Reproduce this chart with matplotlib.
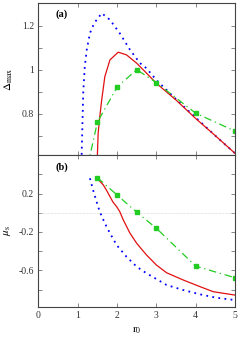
import matplotlib
matplotlib.use("Agg")
import matplotlib.pyplot as plt

# ---- data ----
# panel (a): Delta_max vs r0
a_blue_r = [1.08, 1.10, 1.14, 1.18, 1.23, 1.31, 1.42, 1.61, 1.82, 2.07, 2.33, 2.58, 2.75, 3.0, 3.52, 4.02, 4.53, 5.0]
a_blue_v = [0.53, 0.612, 0.893, 1.014, 1.09, 1.165, 1.211, 1.256, 1.226, 1.165, 1.09, 1.03, 1.006, 0.953, 0.862, 0.779, 0.695, 0.62]
a_red_r = [1.48, 1.50, 1.52, 1.57, 1.61, 1.69, 1.82, 2.03, 2.24, 2.5, 2.75, 3.0, 3.5, 4.0, 4.5, 5.0]
a_red_v = [0.50, 0.61, 0.711, 0.80, 0.862, 0.968, 1.044, 1.079, 1.067, 1.029, 0.984, 0.938, 0.862, 0.778, 0.70, 0.62]
a_green_r = [1.25, 1.5, 2.0, 2.5, 3.0, 4.0, 5.0]
a_green_v = [0.56, 0.761, 0.92, 1.0, 0.941, 0.802, 0.721]

# panel (b): mu_s vs r0
b_blue_r = [1.31, 1.39, 1.48, 1.56, 1.69, 1.82, 1.99, 2.24, 2.5, 2.75, 3.0, 3.26, 3.68, 4.11, 4.53, 5.0]
b_blue_v = [0.36, 0.239, 0.116, 0.012, -0.109, -0.213, -0.336, -0.458, -0.562, -0.631, -0.69, -0.753, -0.805, -0.85, -0.886, -0.91]
b_red_r = [1.48, 1.56, 1.65, 1.74, 1.82, 1.90, 1.99, 2.07, 2.16, 2.33, 2.5, 2.75, 3.0, 3.26, 3.68, 4.11, 4.45, 5.0]
b_red_v = [0.371, 0.33, 0.291, 0.23, 0.169, 0.11, 0.064, 0.012, -0.075, -0.213, -0.318, -0.44, -0.544, -0.625, -0.70, -0.77, -0.823, -0.858]
b_green_r = [1.5, 2.0, 2.5, 3.0, 4.0, 5.0]
b_green_v = [0.367, 0.186, 0.006, -0.161, -0.556, -0.677]

x_ticks = [0, 1, 2, 3, 4, 5]
a_yticks = [0.8, 1.0, 1.2]
a_yticklabels = ["0.8", "1", "1.2"]
a_yminor = [0.7, 0.9, 1.1]
b_yticks = [-0.6, -0.2, 0.2]
b_yticklabels = ["-0.6", "-0.2", "0.2"]
b_yminor = [-0.8, -0.4, 0.0, 0.4]

plt.rcParams['font.family'] = ['Liberation Serif', 'DejaVu Serif']
plt.rcParams['mathtext.fontset'] = 'stix'

fig = plt.figure(figsize=(2.4, 3.42), dpi=100)
L, R = 0.160, 0.979
axa = fig.add_axes([L, 0.546, R - L, 0.445])
axb = fig.add_axes([L, 0.103, R - L, 0.443])

BLUE = '#0000ff'
RED = '#e01010'
GREEN = '#22cc22'
dot = (0, (1, 2.4))
dashdot = (0, (6, 3, 1, 3))

for ax in (axa, axb):
    ax.set_xlim(0, 5)
    ax.set_xticks(x_ticks)
    ax.tick_params(which='both', direction='in', top=True, right=True,
                   length=3, width=0.5, labelsize=7, colors='#555555', labelcolor='#333333', pad=3)
    for s in ax.spines.values():
        s.set_linewidth(0.8)
        s.set_color('#444444')

# panel (a)
axa.plot(a_blue_r, a_blue_v, color=BLUE, lw=1.3, ls=dot)
axa.plot(a_red_r, a_red_v, color=RED, lw=0.9)
axa.plot(a_green_r, a_green_v, color=GREEN, lw=0.9, ls=dashdot, marker='s', ms=2.6)
axa.set_ylim(0.611, 1.302)
axa.set_yticks(a_yticks)
axa.set_yticklabels(a_yticklabels)
axa.set_yticks(a_yminor, minor=True)
axa.tick_params(labelbottom=False)
axa.set_ylabel(r'$\Delta_{\rm max}$', fontsize=8, labelpad=5)
axa.text(0.085, 0.93, '(a)', transform=axa.transAxes, fontsize=7.5, fontweight='bold', va='center')

# panel (b)
axb.axhline(0, color='#cccccc', lw=0.5, ls=(0, (1, 1)))
axb.plot(b_blue_r, b_blue_v, color=BLUE, lw=1.3, ls=dot)
axb.plot(b_red_r, b_red_v, color=RED, lw=0.9)
axb.plot(b_green_r, b_green_v, color=GREEN, lw=0.9, ls=dashdot, marker='s', ms=2.6)
axb.set_ylim(-0.98, 0.6)
axb.set_yticks(b_yticks)
axb.set_yticklabels(b_yticklabels)
axb.set_yticks(b_yminor, minor=True)
axb.set_ylabel(r'$\mu_{\rm s}$', fontsize=8, labelpad=4)
axb.set_xlabel(r'$\rm r_0$', fontsize=8, labelpad=4)
axb.text(0.085, 0.92, '(b)', transform=axb.transAxes, fontsize=7.5, fontweight='bold', va='center')

fig.savefig('out.png', dpi=100)
